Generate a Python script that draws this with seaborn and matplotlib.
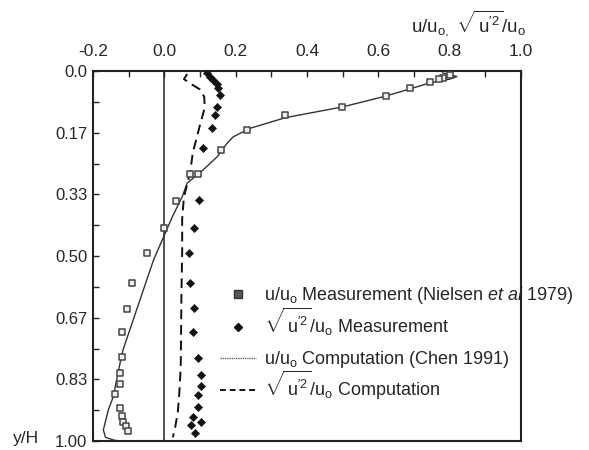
import numpy as np
import pandas as pd
import matplotlib
matplotlib.use("Agg")
import matplotlib.pyplot as plt
import seaborn as sns
from matplotlib.ticker import MultipleLocator, FixedLocator

# -------------------------------
# Data
# -------------------------------
# u/u0 measurement (Nielsen et al 1979), squares
u_meas_x = [0.80, 0.78, 0.77, 0.745, 0.689, 0.621, 0.498, 0.338, 0.232, 0.159,
            0.094, 0.072, 0.033, 0.000, -0.048, -0.090, -0.104, -0.118, -0.118,
            -0.124, -0.124, -0.138, -0.124, -0.118, -0.115, -0.107, -0.102]
u_meas_y = [0.012, 0.018, 0.022, 0.030, 0.046, 0.068, 0.097, 0.119, 0.159, 0.214,
            0.278, 0.278, 0.351, 0.424, 0.492, 0.573, 0.643, 0.705, 0.773,
            0.816, 0.846, 0.873, 0.910, 0.932, 0.948, 0.960, 0.973]

# sqrt(u'^2)/u0 measurement, diamonds
rms_meas_x = [0.120, 0.128, 0.137, 0.148, 0.150, 0.156, 0.148, 0.142, 0.134, 0.108,
              0.098, 0.084, 0.070, 0.072, 0.083, 0.081, 0.094, 0.103, 0.103,
              0.094, 0.094, 0.081, 0.103, 0.075, 0.086]
rms_meas_y = [0.005, 0.016, 0.024, 0.034, 0.046, 0.065, 0.097, 0.119, 0.154, 0.208,
              0.349, 0.424, 0.492, 0.573, 0.641, 0.705, 0.776, 0.822, 0.851,
              0.876, 0.908, 0.935, 0.949, 0.957, 0.978]

# u/u0 computation (Chen 1991), solid line
u_comp_x = [0.78, 0.82, 0.80, 0.745, 0.69, 0.62, 0.50, 0.34, 0.24, 0.193, 0.176,
            0.148, 0.108, 0.064, 0.050, 0.022, -0.006, -0.030, -0.116, -0.130,
            -0.143, -0.157, -0.171, -0.165, -0.140, -0.120]
u_comp_y = [0.005, 0.015, 0.022, 0.032, 0.048, 0.068, 0.097, 0.126, 0.155, 0.178,
            0.195, 0.232, 0.268, 0.303, 0.340, 0.395, 0.457, 0.510, 0.754, 0.816,
            0.880, 0.916, 0.970, 0.990, 0.998, 1.000]

# sqrt(u'^2)/u0 computation, dashed line
rms_comp_x = [0.064, 0.055, 0.075, 0.100, 0.112, 0.113, 0.100, 0.080, 0.072, 0.055,
              0.050, 0.050, 0.048, 0.047, 0.046, 0.042, 0.038, 0.031, 0.024]
rms_comp_y = [0.008, 0.022, 0.035, 0.050, 0.070, 0.100, 0.146, 0.220, 0.276, 0.340,
              0.400, 0.490, 0.600, 0.700, 0.800, 0.870, 0.920, 0.960, 0.990]

x_ticks = [-0.2, 0.0, 0.2, 0.4, 0.6, 0.8, 1.0]
x_tick_labels = ["-0.2", "0.0", "0.2", "0.4", "0.6", "0.8", "1.0"]
y_ticks = [0, 1/6, 2/6, 3/6, 4/6, 5/6, 1.0]
y_tick_labels = ["0.0", "0.17", "0.33", "0.50", "0.67", "0.83", "1.00"]

# -------------------------------
# Style
# -------------------------------
sns.set_style("white")
plt.rcParams["font.family"] = ["Liberation Sans", "DejaVu Sans"]
plt.rcParams["mathtext.fontset"] = "custom"
plt.rcParams["mathtext.rm"] = "Liberation Sans"
plt.rcParams["mathtext.it"] = "Liberation Sans:italic"

fig = plt.figure(figsize=(5.89, 4.5), dpi=100)
ax = fig.add_axes([93/589, 1 - 441/450, 428/589, 370/450])

df_u = pd.DataFrame({"x": u_comp_x, "y": u_comp_y})
df_r = pd.DataFrame({"x": rms_comp_x, "y": rms_comp_y})

ax.axvline(0.0, color="#222222", lw=1.1, zorder=1)

sns.lineplot(data=df_u, x="x", y="y", sort=False, estimator=None, ax=ax,
             color="#333333", lw=1.0, legend=False)
sns.lineplot(data=df_r, x="x", y="y", sort=False, estimator=None, ax=ax,
             color="#111111", lw=1.4, linestyle=(0, (5, 3)), legend=False)
sns.scatterplot(x=u_meas_x, y=u_meas_y, ax=ax, marker="s", s=24,
                facecolor="#eeeeee", edgecolor="#444444", linewidth=1.1,
                zorder=3, legend=False)
sns.scatterplot(x=rms_meas_x, y=rms_meas_y, ax=ax, marker="D", s=18,
                color="#111111", edgecolor="#111111", zorder=3, legend=False)

ax.set_xlim(-0.2, 1.0)
ax.set_ylim(1.0, 0.0)

ax.xaxis.tick_top()
ax.xaxis.set_label_position("top")
ax.set_xticks(x_ticks)
ax.set_xticklabels(x_tick_labels, fontsize=12.5)
ax.xaxis.set_minor_locator(MultipleLocator(0.1))
ax.set_yticks(y_ticks)
ax.set_yticklabels(y_tick_labels, fontsize=12)
ax.yaxis.set_minor_locator(FixedLocator([k / 12 for k in range(13)]))
ax.tick_params(axis="both", which="both", direction="in", length=4,
               width=1.0, color="#222222")
ax.tick_params(axis="x", which="both", top=True, bottom=False, pad=9)
ax.tick_params(axis="y", which="both", left=True, right=False, pad=4)

ax.set_xlabel(r"u/u$_\mathregular{o,}$ $\sqrt{\,\mathrm{u}^{\prime 2}}$/u$_\mathregular{o}$",
              fontsize=13.5, loc="right", labelpad=8)
ax.xaxis.get_label().set_x(1.012)
ax.set_ylabel("")
for sp in ax.spines.values():
    sp.set_linewidth(1.5)
    sp.set_color("#222222")

fig.text(13/589, 1 - 438/450, "y/H", fontsize=12.5, va="center", ha="left")

# -------------------------------
# Legend (one row per entry, evenly spaced)
# -------------------------------
h_sq = plt.Line2D([], [], marker="s", ls="none", ms=5.5, mfc="#555555",
                  mec="#333333")
h_di = plt.Line2D([], [], marker="D", ls="none", ms=4, mfc="#111111",
                  mec="#111111")
h_ln = plt.Line2D([], [], color="#666666", lw=1.0, ls=(0, (1, 0.6)))
h_da = plt.Line2D([], [], color="#111111", lw=1.4, ls=(0, (3, 2)))
handles = [h_sq, h_di, h_ln, h_da]
labels = [
    r"u/u$_\mathregular{o}$ Measurement (Nielsen $\it{et\ al}$ 1979)",
    r"$\sqrt{\,\mathrm{u}^{\prime 2}}$/u$_\mathregular{o}$ Measurement",
    r"u/u$_\mathregular{o}$ Computation (Chen 1991)",
    r"$\sqrt{\,\mathrm{u}^{\prime 2}}$/u$_\mathregular{o}$ Computation",
]
row_px = [306, 338, 370, 402]
for i, (h, lab, py) in enumerate(zip(handles, labels, row_px)):
    leg = ax.legend([h], [lab], loc="lower left",
                    bbox_to_anchor=(0.297, 1 - (py - 71) / 370),
                    frameon=False, fontsize=13, handlelength=2.0,
                    handletextpad=0.45, borderpad=0, borderaxespad=0)
    leg.set_zorder(5)
    if i < len(handles) - 1:
        ax.add_artist(leg)

fig.savefig("out.png", dpi=100)
